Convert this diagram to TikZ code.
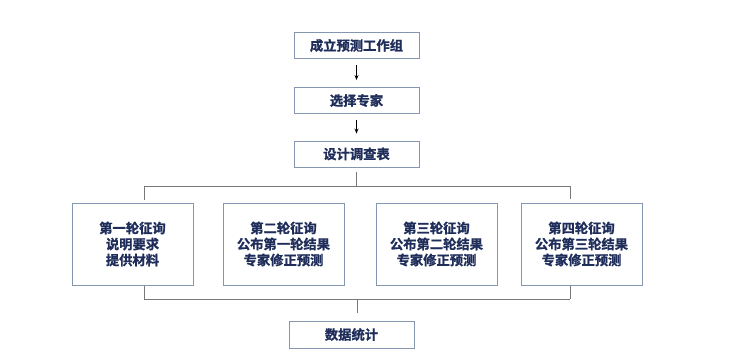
\documentclass[tikz,border=0pt]{standalone}
\usepackage{fontspec}
\newfontfamily\cjk{Noto Sans CJK SC Bold}[FakeBold=1.2]
\usetikzlibrary{arrows.meta}
\definecolor{txt}{RGB}{31,45,90}
\definecolor{bord}{RGB}{132,150,176}
\definecolor{conn}{RGB}{120,120,120}
\begin{document}
\begin{tikzpicture}[x=1pt,y=-1pt,
  box/.style={draw=bord,line width=0.9pt,fill=white,text=txt,align=center,
    font=\cjk\fontsize{13.3}{16}\selectfont,inner sep=0pt},
  topbox/.style={box,minimum width=125pt,minimum height=26pt},
  roundbox/.style={box,minimum width=121pt,minimum height=82pt},
  arr/.style={-{Stealth[length=5pt,width=4pt]},black,line width=0.9pt,shorten <=6pt,shorten >=7pt},
  ln/.style={conn,line width=0.9pt}]
\useasboundingbox (0,0) rectangle (749,352);
\fill[white] (0,0) rectangle (749,352);
\node[topbox] (b1) at (356.5,45.5) {成立预测工作组};
\node[topbox] (b2) at (356.5,100.5) {选择专家};
\node[topbox] (b3) at (356.5,154) {设计调查表};
\node[roundbox] (r1) at (132.5,244) {第一轮征询\\说明要求\\提供材料};
\node[roundbox] (r2) at (283.5,244) {第二轮征询\\公布第一轮结果\\专家修正预测};
\node[roundbox] (r3) at (436.5,244) {第三轮征询\\公布第二轮结果\\专家修正预测};
\node[roundbox] (r4) at (581.5,244) {第四轮征询\\公布第三轮结果\\专家修正预测};
\node[topbox,minimum height=27pt] (b5) at (351.5,334.5) {数据统计};
\draw[arr] (b1) -- (b2);
\draw[arr] (b2) -- (b3);
\coordinate (tc) at (356.5,186);
\coordinate (tl) at (144,186);
\coordinate (tr) at (570,186);
\coordinate (bl) at (144,299);
\coordinate (br) at (570,299);
\coordinate (bc) at (357,299);
\draw[ln,shorten <=5pt] (b3.south) -- (tc);
\draw[ln] (tl) -- (tr);
\draw[ln,shorten >=3pt] (tl) -- (tl |- r1.north);
\draw[ln,shorten >=4pt] (tr) -- (tr |- r4.north);
\draw[ln] (bl) -- (br);
\draw[ln,shorten >=1pt] (bl) -- (bl |- r1.south);
\draw[ln,shorten >=1pt] (br) -- (br |- r4.south);
\draw[ln,shorten >=8pt] (bc) -- (bc |- b5.north);
\end{tikzpicture}
\end{document}
